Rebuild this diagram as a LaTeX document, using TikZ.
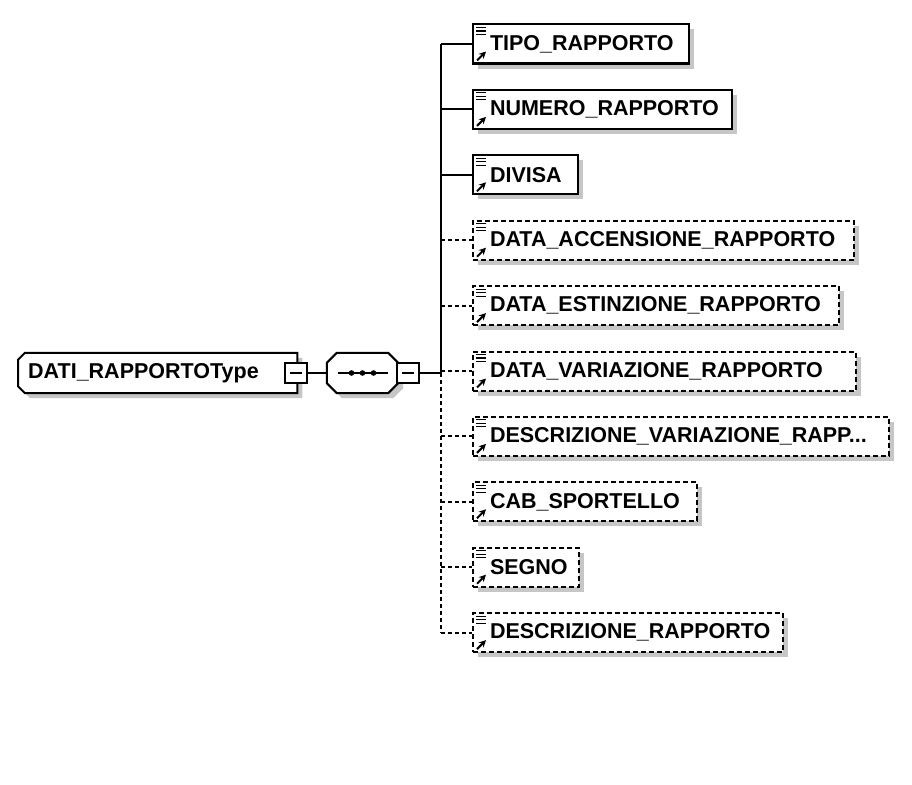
\documentclass[tikz,border=0pt]{standalone}
\usepackage{fontspec}
\setmainfont{Liberation Sans}
\usetikzlibrary{shadows,arrows.meta,backgrounds}
\begin{document}
\begin{tikzpicture}[x=1pt,y=-1pt,
  shd/.style={drop shadow={shadow xshift=5pt,shadow yshift=-5pt,fill=gray!45,opacity=1}},
  txt/.style={font=\fontsize{21.5}{21.5}\selectfont\bfseries},
  elem/.style={draw, line width=2pt, fill=white, anchor=west, minimum height=39pt,
    inner xsep=0pt, inner ysep=0pt, align=left, txt, shd},
  opt/.style={elem, dash pattern=on 5pt off 3pt},
  minusbox/.style={draw, line width=1.6pt, fill=white, minimum width=22pt, minimum height=20pt, inner sep=0pt},
  conn/.style={line width=2pt},
  dconn/.style={line width=2pt, dash pattern=on 4pt off 3pt},
  outline/.style={line width=2pt, fill=white},
  shadowfill/.style={fill=gray!45},
  iconline/.style={line width=1.1pt},
  iconarrow/.style={line width=2pt, -{Stealth[length=7pt,width=7pt]}}
]
\useasboundingbox (0,0) rectangle (912,784);
\newcommand{\xsdicon}[1]{%
  \draw[iconline] ([shift={(4,4)}]#1.north west) -- ++(10,0);
  \draw[iconline] ([shift={(4,7.5)}]#1.north west) -- ++(10,0);
  \draw[iconline] ([shift={(4,11)}]#1.north west) -- ++(10,0);
  \draw[iconarrow] ([shift={(5,-4)}]#1.south west) -- ++(9,-9);
}

% root
\node[anchor=west, minimum height=40pt, text width=279pt, inner xsep=0pt, inner ysep=0pt,
  align=left, txt] (root) at (18,373) {\hspace*{10pt}DATI\_RAPPORTOType};
\begin{scope}[on background layer]
  \fill[shadowfill] ([shift={(12,5)}]root.north west) -- ([shift={(5,5)}]root.north east)
    -- ([shift={(5,5)}]root.south east) -- ([shift={(12,5)}]root.south west)
    -- ([shift={(5,-2)}]root.south west) -- ([shift={(5,12)}]root.north west) -- cycle;
  \draw[outline] ([xshift=7pt]root.north west) -- (root.north east) -- (root.south east)
    -- ([xshift=7pt]root.south west) -- ([yshift=7pt]root.south west)
    -- ([yshift=-7pt]root.north west) -- cycle;
\end{scope}
\node[minusbox] (m1) at (296,373) {};
\draw[line width=1.6pt] ([xshift=-6pt]m1.center) -- ([xshift=6pt]m1.center);

% sequence
\node[minimum width=71pt, minimum height=40pt, inner sep=0pt] (seq) at (362.5,373) {};
\begin{scope}[on background layer]
  \fill[shadowfill] ([shift={(15,5)}]seq.north west) -- ([shift={(-5,5)}]seq.north east)
    -- ([shift={(5,15)}]seq.north east) -- ([shift={(5,-5)}]seq.south east)
    -- ([shift={(-5,5)}]seq.south east) -- ([shift={(15,5)}]seq.south west)
    -- ([shift={(5,-5)}]seq.south west) -- ([shift={(5,15)}]seq.north west) -- cycle;
  \draw[outline] ([xshift=10pt]seq.north west) -- ([xshift=-10pt]seq.north east)
    -- ([yshift=-10pt]seq.north east) -- ([yshift=10pt]seq.south east)
    -- ([xshift=-10pt]seq.south east) -- ([xshift=10pt]seq.south west)
    -- ([yshift=10pt]seq.south west) -- ([yshift=-10pt]seq.north west) -- cycle;
\end{scope}
\draw[line width=1.8pt] ([xshift=-25pt]seq.center) -- ([xshift=25pt]seq.center);
\fill ([xshift=-11pt]seq.center) circle (2.8pt);
\fill (seq.center) circle (2.8pt);
\fill ([xshift=11pt]seq.center) circle (2.8pt);
\node[minusbox] (m2) at (408,373) {};
\draw[line width=1.6pt] ([xshift=-6pt]m2.center) -- ([xshift=6pt]m2.center);

\draw[conn] (m1.east) -- (seq.west);

% trunk coordinates
\coordinate (j) at (441,373);
\foreach \i/\y in {1/44,2/109.4,3/174.8,4/240.2,5/305.6,6/371,7/436.4,8/501.8,9/567.2,10/632.6}
  \coordinate (t\i) at (441,\y);

% children
\node[elem, text width=216pt] (c1) at (472,44) {\hspace*{17pt}TIPO\_RAPPORTO};
\node[elem, text width=259pt] (c2) at (472,109.4) {\hspace*{17pt}NUMERO\_RAPPORTO};
\node[elem, text width=105pt] (c3) at (472,174.8) {\hspace*{17pt}DIVISA};
\node[opt, text width=381pt] (c4) at (472,240.2) {\hspace*{17pt}DATA\_ACCENSIONE\_RAPPORTO};
\node[opt, text width=366pt] (c5) at (472,305.6) {\hspace*{17pt}DATA\_ESTINZIONE\_RAPPORTO};
\node[opt, text width=383pt] (c6) at (472,371) {\hspace*{17pt}DATA\_VARIAZIONE\_RAPPORTO};
\node[opt, text width=416pt] (c7) at (472,436.4) {\hspace*{17pt}DESCRIZIONE\_VARIAZIONE\_RAPP...};
\node[opt, text width=224pt] (c8) at (472,501.8) {\hspace*{17pt}CAB\_SPORTELLO};
\node[opt, text width=106pt] (c9) at (472,567.2) {\hspace*{17pt}SEGNO};
\node[opt, text width=310pt] (c10) at (472,632.6) {\hspace*{17pt}DESCRIZIONE\_RAPPORTO};

\foreach \i in {1,...,10} {\xsdicon{c\i}}

% connectors
\draw[line width=2.4pt] (t1) -- (j);
\draw[line width=2.4pt, dash pattern=on 4pt off 3pt] (j) -- (t10);
\draw[conn] (m2.east) -- (j);
\foreach \i in {1,2,3} {\draw[conn] (t\i) -- (c\i.west);}
\foreach \i in {4,...,10} {\draw[dconn] (t\i) -- (c\i.west);}
\end{tikzpicture}
\end{document}
